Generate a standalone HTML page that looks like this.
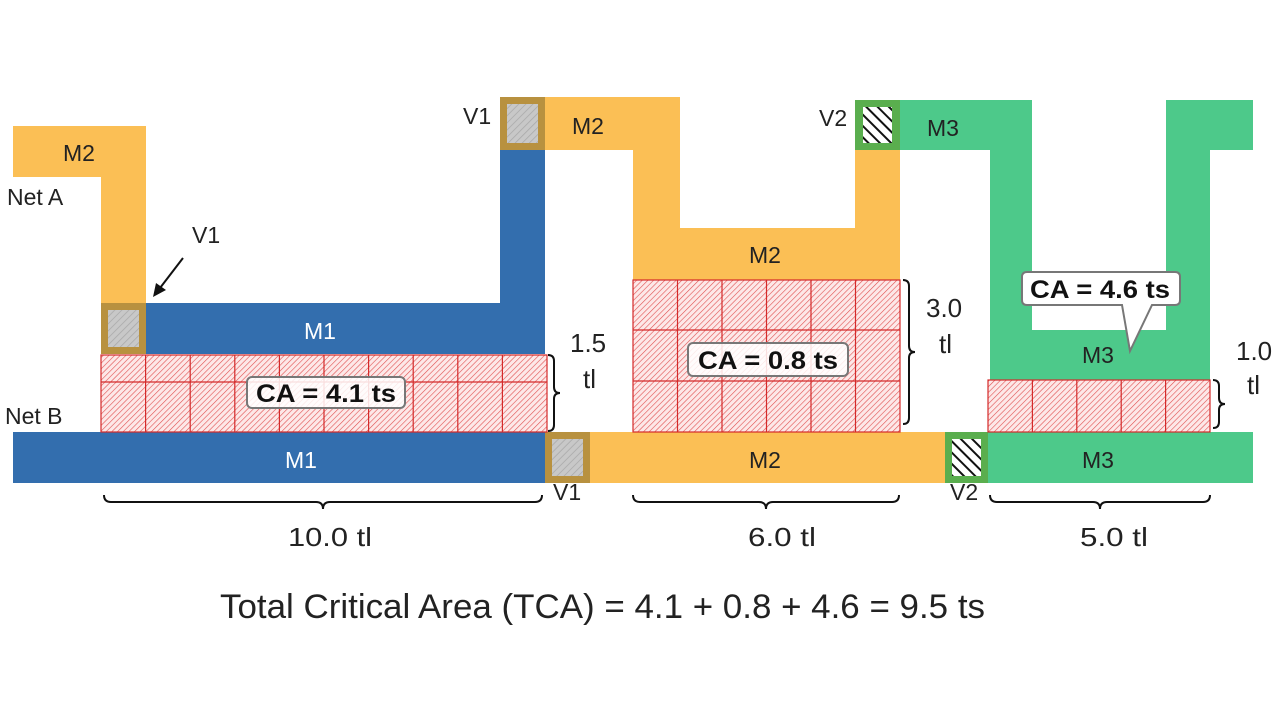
<!DOCTYPE html>
<html><head><meta charset="utf-8"><style>
html,body{margin:0;padding:0;background:#fff;width:1280px;height:720px;overflow:hidden}
svg text{font-family:"Liberation Sans","DejaVu Sans",sans-serif}
</style></head><body>
<svg width="1280" height="720" viewBox="0 0 1280 720" xmlns="http://www.w3.org/2000/svg">
<defs>
<pattern id="h" width="4" height="4" patternUnits="userSpaceOnUse" patternTransform="rotate(45)">
<rect width="4" height="4" fill="#fde8e8"/><line x1="0" y1="0" x2="0" y2="4" stroke="#e05050" stroke-width="1.2"/></pattern>
<pattern id="g" width="5" height="5" patternUnits="userSpaceOnUse" patternTransform="rotate(45)">
<rect width="5" height="5" fill="#c8c8c8"/><line x1="0" y1="0" x2="0" y2="5" stroke="#a8a8a8" stroke-width="1.5"/></pattern>
<pattern id="k" width="8" height="8" patternUnits="userSpaceOnUse" patternTransform="rotate(-45)">
<rect width="8" height="8" fill="#fff"/><line x1="0" y1="0" x2="0" y2="8" stroke="#111" stroke-width="4"/></pattern>
</defs>
<g fill="#FBBF55">
<rect x="13" y="126" width="133" height="51"/><rect x="101" y="126" width="45" height="180"/>
<rect x="545" y="97" width="135" height="53"/><rect x="633" y="97" width="47" height="183"/>
<rect x="633" y="228" width="267" height="52"/><rect x="855" y="100" width="45" height="180"/>
<rect x="590" y="432" width="355" height="51"/>
</g>
<g fill="#336EAE">
<rect x="146" y="303" width="399" height="51"/><rect x="500" y="97" width="45" height="206"/>
<rect x="13" y="432" width="532" height="51"/>
</g>
<g fill="#4DC98A">
<rect x="900" y="100" width="132" height="50"/><rect x="990" y="100" width="42" height="280"/>
<rect x="990" y="330" width="220" height="50"/><rect x="1166" y="100" width="44" height="280"/>
<rect x="1166" y="100" width="87" height="50"/><rect x="988" y="432" width="265" height="51"/>
</g>
<rect x="101" y="303" width="45" height="51" fill="#B8913F"/><rect x="108" y="310" width="31" height="37" fill="url(#g)"/>
<rect x="500" y="97" width="45" height="53" fill="#B8913F"/><rect x="507" y="104" width="31" height="39" fill="url(#g)"/>
<rect x="545" y="432" width="45" height="51" fill="#B8913F"/><rect x="552" y="439" width="31" height="37" fill="url(#g)"/>
<rect x="855" y="100" width="45" height="50" fill="#5AAE4E"/><rect x="863" y="107" width="29" height="36" fill="url(#k)"/>
<rect x="945" y="432" width="43" height="51" fill="#5AAE4E"/><rect x="952" y="439" width="29" height="37" fill="url(#k)"/>
<g stroke="#d42a2a" stroke-width="1.2">
<rect x="101" y="355" width="446" height="77" fill="url(#h)"/>
<path d="M101 382H547 M145.6 355V432 M190.2 355V432 M234.8 355V432 M279.4 355V432 M324 355V432 M368.6 355V432 M413.2 355V432 M457.8 355V432 M502.4 355V432" fill="none"/>
<rect x="633" y="280" width="267" height="152" fill="url(#h)"/>
<path d="M633 330H900 M633 381H900 M677.5 280V432 M722 280V432 M766.5 280V432 M811 280V432 M855.5 280V432" fill="none"/>
<rect x="988" y="380" width="222" height="52" fill="url(#h)"/>
<path d="M1032.4 380V432 M1076.8 380V432 M1121.2 380V432 M1165.6 380V432" fill="none"/>
</g>
<g font-size="23" fill="#222">
<text x="63" y="161">M2</text><text x="7" y="205">Net A</text><text x="192" y="243">V1</text>
<text x="5" y="424">Net B</text><text x="463" y="124">V1</text><text x="572" y="134">M2</text>
<text x="819" y="126">V2</text><text x="927" y="136">M3</text><text x="749" y="263">M2</text>
<text x="749" y="468">M2</text><text x="1082" y="363">M3</text><text x="1082" y="468">M3</text>
<text x="553" y="500">V1</text><text x="950" y="500">V2</text>
</g>
<g font-size="26" fill="#222">
<text x="570" y="352">1.5</text><text x="583" y="388">tl</text>
<text x="926" y="317">3.0</text><text x="939" y="353">tl</text>
<text x="1236" y="360">1.0</text><text x="1247" y="394">tl</text>
<text x="288" y="546" textLength="84" lengthAdjust="spacingAndGlyphs">10.0 tl</text><text x="748" y="546" textLength="68" lengthAdjust="spacingAndGlyphs">6.0 tl</text><text x="1080" y="546" textLength="68" lengthAdjust="spacingAndGlyphs">5.0 tl</text>
</g>
<g font-size="23" fill="#fff"><text x="304" y="339">M1</text><text x="285" y="468">M1</text></g>
<line x1="183" y1="258" x2="160" y2="288" stroke="#111" stroke-width="2"/>
<polygon points="153,297 156,283 166,290" fill="#111"/>
<g fill="none" stroke="#111" stroke-width="2">
<path d="M548 355 q6 0 6 6 v26 q0 6 6 6 q-6 0 -6 6 v26 q0 6 -6 6"/>
<path d="M903 280 q6 0 6 6 v60 q0 6 6 6 q-6 0 -6 6 v60 q0 6 -6 6"/>
<path d="M1213 380 q6 0 6 6 v12 q0 6 6 6 q-6 0 -6 6 v12 q0 6 -6 6"/>
<path d="M104 495 q0 7 7 7 h205 q7 0 7 7 q0 -7 7 -7 h205 q7 0 7 -7"/>
<path d="M633 495 q0 7 7 7 h119 q7 0 7 7 q0 -7 7 -7 h119 q7 0 7 -7"/>
<path d="M990 495 q0 7 7 7 h96 q7 0 7 7 q0 -7 7 -7 h96 q7 0 7 -7"/>
</g>
<g font-size="25" font-weight="bold" fill="#111">
<rect x="247" y="377" width="158" height="31" rx="5" fill="#fff" fill-opacity="0.85" stroke="#777" stroke-width="2"/>
<text x="326" y="402" text-anchor="middle" textLength="140" lengthAdjust="spacingAndGlyphs">CA = 4.1 ts</text>
<rect x="688" y="343" width="160" height="33" rx="5" fill="#fff" fill-opacity="0.85" stroke="#777" stroke-width="2"/>
<text x="768" y="369" text-anchor="middle" textLength="140" lengthAdjust="spacingAndGlyphs">CA = 0.8 ts</text>
<path d="M1027 272 h148 q5 0 5 5 v23 q0 5 -5 5 h-23 l-22 46 l-8 -46 h-95 q-5 0 -5 -5 v-23 q0 -5 5 -5z" fill="#fff" stroke="#777" stroke-width="2"/>
<text x="1100" y="298" text-anchor="middle" textLength="140" lengthAdjust="spacingAndGlyphs">CA = 4.6 ts</text>
</g>
<text x="220" y="618" font-size="34" fill="#222" textLength="765" lengthAdjust="spacingAndGlyphs">Total Critical Area (TCA) = 4.1 + 0.8 + 4.6 = 9.5 ts</text>
</svg>
</body></html>
